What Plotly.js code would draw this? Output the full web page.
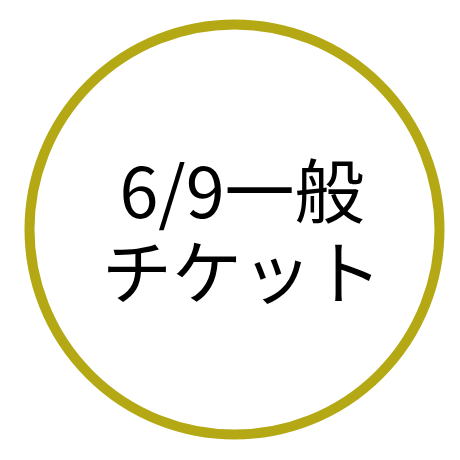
<!DOCTYPE html>
<html>
<head>
<meta charset="utf-8">
<script src="https://cdn.plot.ly/plotly-3.0.1.min.js"></script>
<style>
  html, body { margin: 0; padding: 0; background: #fff; }
  #chart { width: 460px; height: 460px; }
</style>
</head>
<body>
<div id="chart"></div>
<script>
// テキスト行
const labelLines = ['6/9一般', 'チケット'];
const labelPos = [242, 228];

// 円の中心と半径 (ピクセル単位の座標系)
const ringCenter = [234.5, 229.5];
const ringRadius = [205];

const ringColor = '#B4A915';

const shapes = ringRadius.map(r => ({
  type: 'circle',
  xref: 'x', yref: 'y',
  x0: ringCenter[0] - r, x1: ringCenter[0] + r,
  y0: ringCenter[1] - r, y1: ringCenter[1] + r,
  line: { color: ringColor, width: 10 },
  fillcolor: 'rgba(0,0,0,0)'
}));

// 行間は基準サイズ(62px)で決まり、文字そのものは70pxで描く
const labelText = labelLines
  .map(t => '<span style="font-size:70px">' + t + '</span>')
  .join('<br>');

const annotations = [{
  x: labelPos[0], y: labelPos[1],
  xref: 'x', yref: 'y',
  text: labelText,
  showarrow: false,
  align: 'center',
  xanchor: 'center', yanchor: 'middle',
  font: { family: '"Noto Sans CJK JP", "Noto Sans", sans-serif', size: 62, color: '#000' }
}];

Plotly.newPlot('chart', [], {
  width: 460, height: 460,
  margin: { t: 0, r: 0, b: 0, l: 0 },
  paper_bgcolor: '#fff', plot_bgcolor: '#fff',
  xaxis: { range: [0, 460], visible: false, fixedrange: true },
  yaxis: { range: [460, 0], visible: false, fixedrange: true },
  shapes: shapes,
  annotations: annotations,
  showlegend: false
}, { displayModeBar: false, staticPlot: true });
</script>
</body>
</html>
